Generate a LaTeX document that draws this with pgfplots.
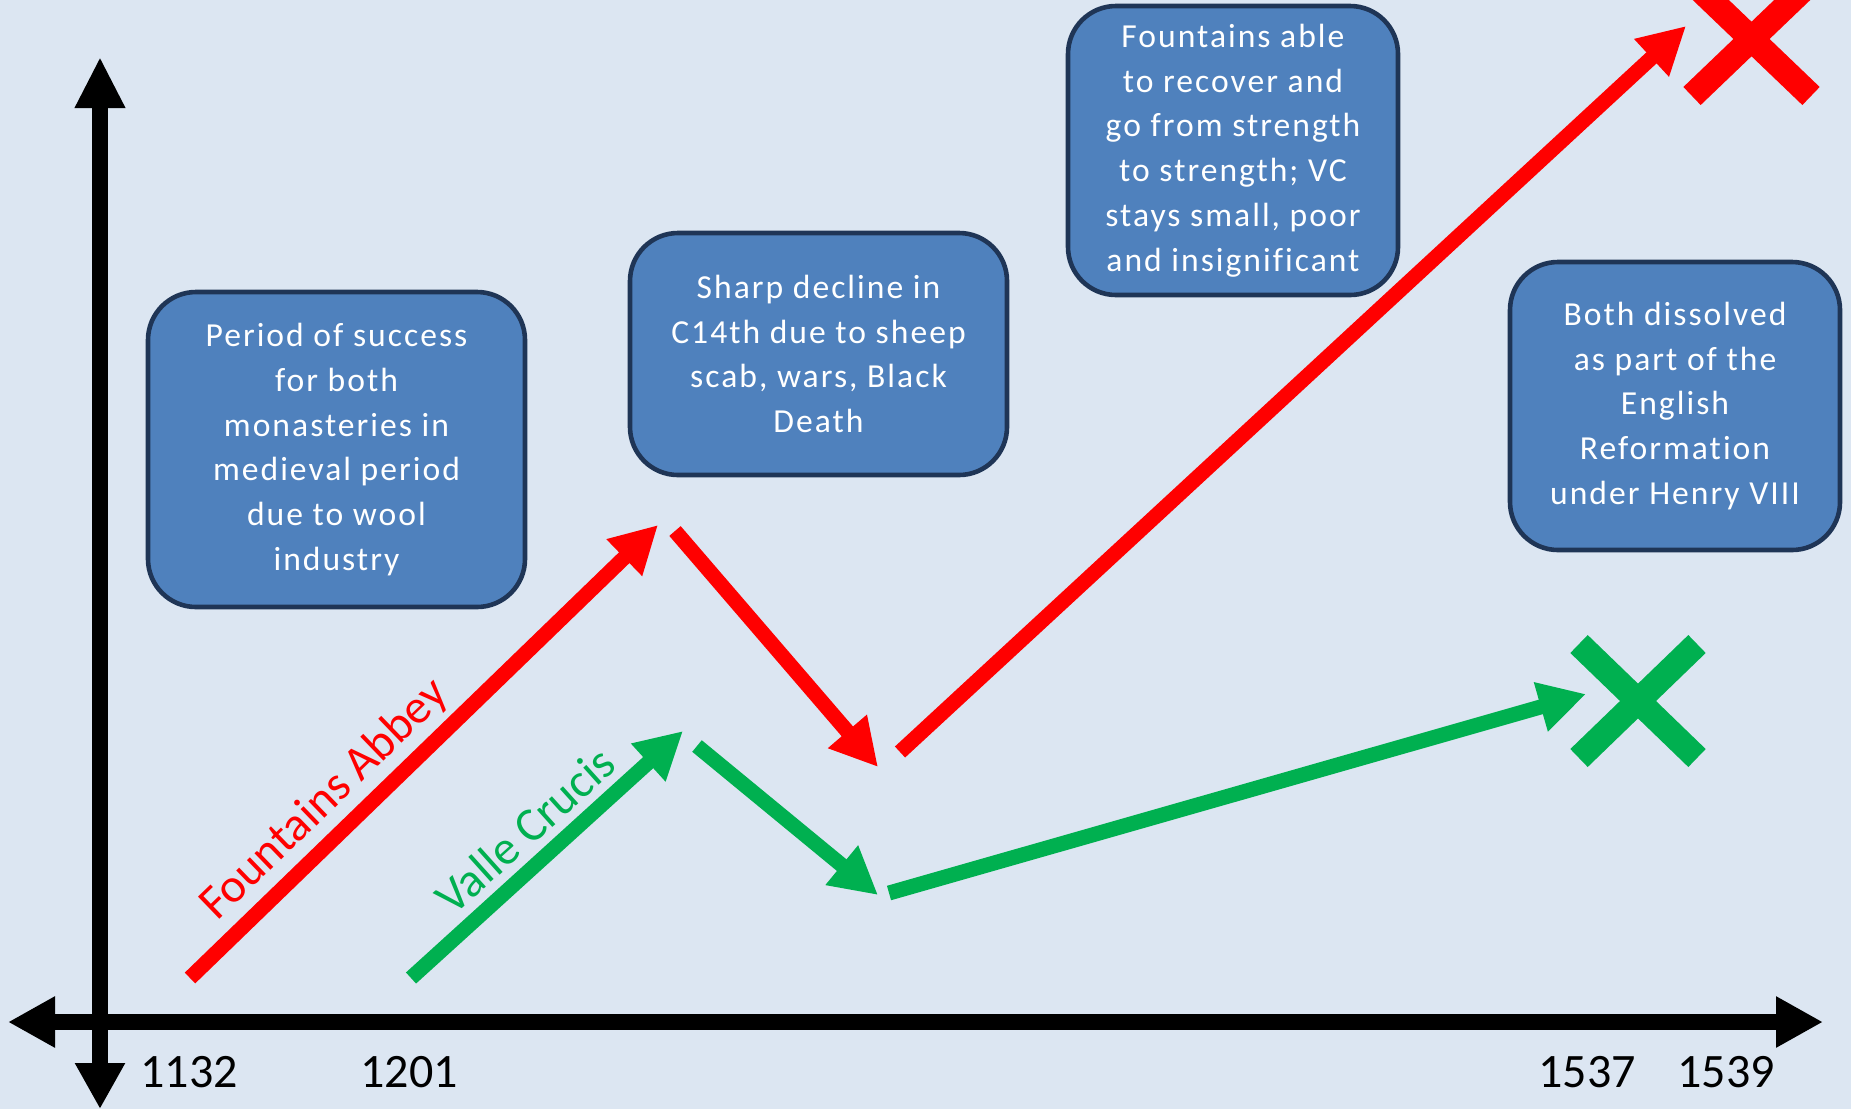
\documentclass[border=0pt]{standalone}
\usepackage{pgfplots}
\pgfplotsset{compat=1.18}
\usepackage{fontspec}
\setmainfont{Carlito}
\newfontfamily\boxfont[LetterSpace=6, Ligatures=NoCommon]{Carlito}
\usetikzlibrary{arrows.meta}

\definecolor{bg}{HTML}{DCE6F2}
\definecolor{boxfill}{HTML}{4F81BD}
\definecolor{boxline}{HTML}{1F3556}
\definecolor{fred}{HTML}{FF0000}
\definecolor{vgreen}{HTML}{00B050}

% arrow endpoints in picture pixels (y downwards)
\pgfplotstableread{
x y
190 978
658 525
}\fountainsup
\pgfplotstableread{
x y
675 531
878 767
}\fountainsdown
\pgfplotstableread{
x y
900 752
1686 26
}\fountainsrecover
\pgfplotstableread{
x y
411 978
683 731
}\valleup
\pgfplotstableread{
x y
697 746
878 895
}\valledown
\pgfplotstableread{
x y
889 893
1586 694
}\vallerecover

\begin{document}
\begin{tikzpicture}
\begin{axis}[
    width=925.5pt, height=554.5pt,
    scale only axis,
    xmin=0, xmax=1851, ymin=0, ymax=1109,
    y dir=reverse,
    axis line style={draw=none},
    xtick=\empty, ytick=\empty,
    axis background/.style={fill=bg},
    clip=true,
]
% timeline axes
\addplot[black, line width=8.2pt, {Triangle[length=23.5pt,width=24pt]}-{Triangle[length=23.5pt,width=24pt]}]
    coordinates {(8,1022) (1823,1022)};
\addplot[black, line width=7.8pt, {Triangle[length=25.5pt,width=23.5pt]}-{Triangle[length=23pt,width=23.5pt]}]
    coordinates {(100,57) (100,1109)};

% Fountains Abbey
\addplot[fred, line width=7.5pt, -{Triangle[length=23.5pt,width=24pt]}] table {\fountainsup};
\addplot[fred, line width=7.5pt, -{Triangle[length=23.5pt,width=24pt]}] table {\fountainsdown};
\addplot[fred, line width=7.5pt, -{Triangle[length=23.5pt,width=24pt]}] table {\fountainsrecover};
% Valle Crucis
\addplot[vgreen, line width=7.5pt, -{Triangle[length=23.5pt,width=24pt]}] table {\valleup};
\addplot[vgreen, line width=7.5pt, -{Triangle[length=23.5pt,width=24pt]}] table {\valledown};
\addplot[vgreen, line width=7.5pt, -{Triangle[length=23.5pt,width=24pt]}] table {\vallerecover};

% dissolution crosses
\addplot[fred, line width=12.5pt] coordinates {(1692,-18) (1811,96)};
\addplot[fred, line width=12.5pt] coordinates {(1692,96) (1811,-18)};
\addplot[vgreen, line width=12.5pt] coordinates {(1579,644) (1697,758)};
\addplot[vgreen, line width=12.5pt] coordinates {(1579,758) (1697,644)};

% series labels
\node[fred, rotate=44, font=\fontsize{24pt}{28pt}\selectfont] at (axis cs:325,800) {Fountains Abbey};
\node[vgreen, rotate=42, font=\fontsize{24pt}{28pt}\selectfont] at (axis cs:525,830) {Valle Crucis};

% years
\node[inner sep=0pt, font=\fontsize{24pt}{28pt}\selectfont] at (axis cs:189,1072) {1132};
\node[inner sep=0pt, font=\fontsize{24pt}{28pt}\selectfont] at (axis cs:409,1072) {1201};
\node[inner sep=0pt, font=\fontsize{24pt}{28pt}\selectfont] at (axis cs:1587,1072) {1537};
\node[inner sep=0pt, font=\fontsize{24pt}{28pt}\selectfont] at (axis cs:1726,1072) {1539};

% text boxes
\tikzset{note/.style={fill=boxfill, draw=boxline, line width=2.3pt, rounded corners=24pt,
    text=white, align=center, inner sep=0pt, font=\boxfont\fontsize{16.8pt}{22.4pt}\selectfont}}
\node[note, minimum width=188.5pt, minimum height=157.5pt] at (axis cs:336.5,449.5)
    {Period of success\\for both\\monasteries in\\medieval period\\due to wool\\industry};
\node[note, minimum width=188.5pt, minimum height=121pt] at (axis cs:818.5,354)
    {Sharp decline in\\C14th due to sheep\\scab, wars, Black\\Death};
\node[note, minimum width=165pt, minimum height=144.5pt] at (axis cs:1233,150.5)
    {Fountains able\\to recover and\\go from strength\\to strength; VC\\stays small, poor\\and insignificant};
\node[note, minimum width=165pt, minimum height=144pt] at (axis cs:1675,406)
    {Both dissolved\\as part of the\\English\\Reformation\\under Henry VIII};
\end{axis}
\end{tikzpicture}
\end{document}
